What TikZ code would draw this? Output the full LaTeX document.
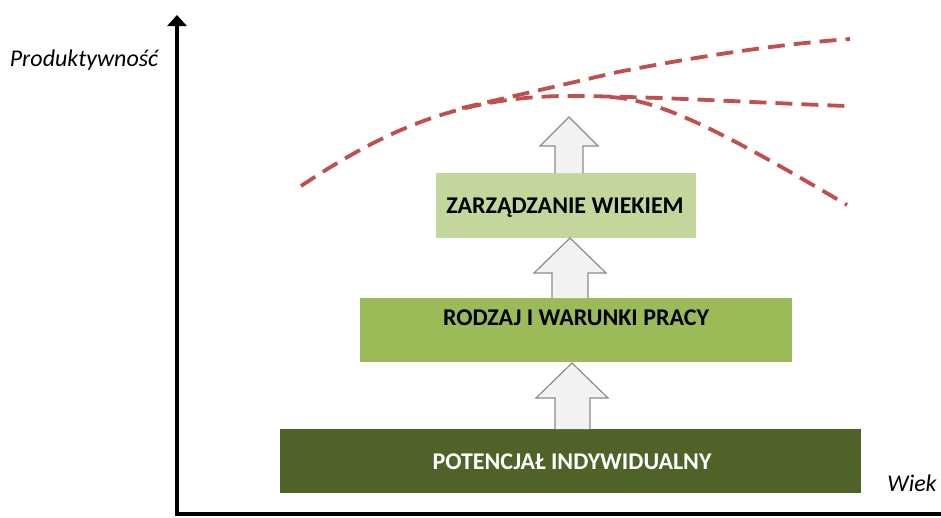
\documentclass[tikz,border=0pt]{standalone}
\usepackage{fontspec}
\setmainfont{Carlito}
\usetikzlibrary{arrows.meta}
\definecolor{boxdark}{HTML}{4F6228}
\definecolor{boxmid}{HTML}{9BBB59}
\definecolor{boxlight}{HTML}{C3D69B}
\definecolor{curvered}{HTML}{C0504D}
\definecolor{arrowfill}{HTML}{F2F2F2}
\definecolor{arrowline}{HTML}{8C8C8C}
\tikzset{
  box/.style={draw=none, inner sep=0pt, anchor=north west},
  boxtext/.style={font=\bfseries\fontsize{24}{28}\selectfont},
  axislabel/.style={font=\itshape\fontsize{24}{28}\selectfont},
  blockarrow/.style={draw=arrowline, fill=arrowfill, line width=1.2pt, line join=miter},
  curve/.style={draw=curvered, line width=3.8pt, dash pattern=on 17pt off 9pt},
  axis/.style={line width=3.2pt}
}
\begin{document}
\begin{tikzpicture}[x=1pt,y=-1pt]
\useasboundingbox (0,0) rectangle (941,517);
% boxes
\node[box, fill=boxdark, minimum width=581pt, minimum height=64pt] (b1) at (280,429) {};
\node[box, fill=boxmid, minimum width=432pt, minimum height=64pt] (b2) at (360,298) {};
\node[box, fill=boxlight, minimum width=260pt, minimum height=65pt] (b3) at (436,173) {};
\node[boxtext, text=white] (t1) at (572,462) {POTENCJAŁ INDYWIDUALNY};
\node[boxtext] (t2) at (576,318) {RODZAJ I WARUNKI PRACY};
\node[boxtext] (t3) at (565,208) {ZARZĄDZANIE WIEKIEM};
% block arrows
\draw[blockarrow] (555,429) -- (555,398) -- (536,398) -- (572,363) -- (608,398) -- (590,398) -- (590,429);
\draw[blockarrow] (552,298) -- (552,273) -- (534,273) -- (570,238) -- (606,273) -- (588,273) -- (588,298);
\draw[blockarrow] (555,173) -- (555,146) -- (540,146) -- (569,117) -- (598,146) -- (583,146) -- (583,173);
% curves
\draw[curve] (301,186) .. controls (385,130) and (460,97) .. (565,96) .. controls (650,96) and (760,103) .. (847,106);
\draw[curve] (610,97) .. controls (660,100) and (720,130) .. (847,205);
\draw[curve] (462,108) -- (618,72) .. controls (700,56) and (780,44) .. (850,39);
% axes
\coordinate (o) at (177,514);
\coordinate (ytop) at (177,15);
\coordinate (xend) at (941,514);
\draw[axis, -{Triangle[width=19pt,length=11pt]}] (o) -- (ytop);
\draw[axis] ([xshift=-1.6pt]o) -- (xend);
\node[axislabel] (ylab) at (84,60) {Produktywność};
\node[axislabel] (xlab) at (912,483) {Wiek};
\end{tikzpicture}
\end{document}
